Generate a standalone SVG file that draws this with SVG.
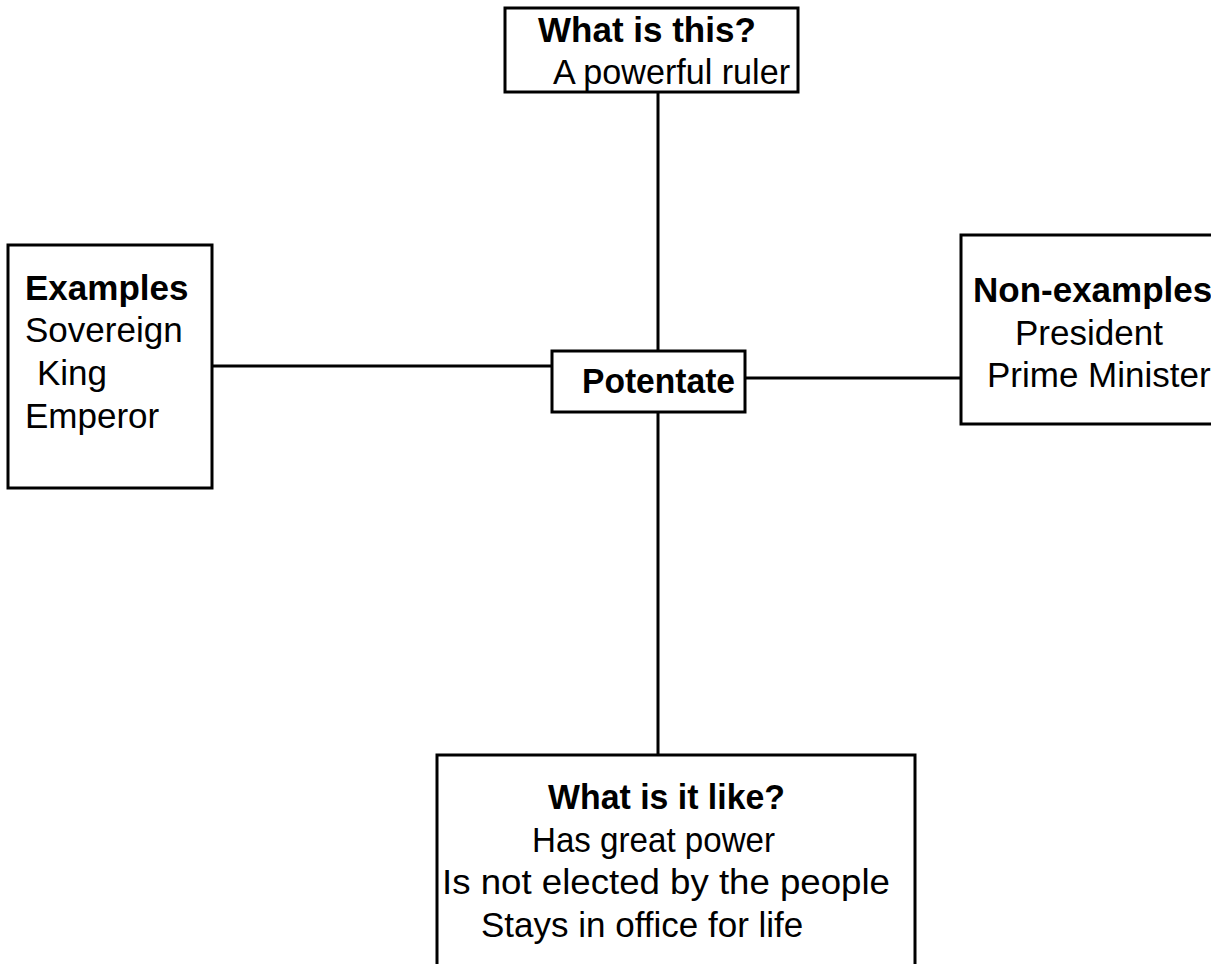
<svg xmlns="http://www.w3.org/2000/svg" width="1211" height="964" viewBox="0 0 1211 964">
<style>
.box{fill:#fff;stroke:#000;stroke-width:3}
.t{font-family:"Liberation Sans",Arial,sans-serif;font-size:35px;fill:#000}
.b{font-weight:bold}
.c{stroke:#000;stroke-width:3;fill:none}
</style>
<rect width="1211" height="964" fill="#fff"/>
<g id="connectors">
<line class="c" x1="658" y1="92" x2="658" y2="351"/>
<line class="c" x1="658" y1="412" x2="658" y2="755"/>
<line class="c" x1="212" y1="366" x2="552" y2="366"/>
<line class="c" x1="745" y1="378" x2="961" y2="378"/>
</g>
<g id="node-top">
<rect class="box" x="505" y="8" width="293" height="84"/>
<text class="t b" x="538" y="42">What is this?</text>
<text class="t" x="553" y="84" textLength="237" lengthAdjust="spacingAndGlyphs">A powerful ruler</text>
</g>
<g id="node-examples">
<rect class="box" x="8" y="245" width="204" height="243"/>
<text class="t b" x="25" y="300">Examples</text>
<text class="t" x="25" y="342">Sovereign</text>
<text class="t" x="37" y="385">King</text>
<text class="t" x="25" y="428">Emperor</text>
</g>
<g id="node-center">
<rect class="box" x="552" y="351" width="193" height="61"/>
<text class="t b" x="582" y="393" textLength="153" lengthAdjust="spacingAndGlyphs">Potentate</text>
</g>
<g id="node-nonexamples">
<rect class="box" x="961" y="235" width="260" height="189"/>
<text class="t b" x="973" y="302">Non-examples</text>
<text class="t" x="1015" y="345">President</text>
<text class="t" x="987" y="387">Prime Minister</text>
</g>
<g id="node-bottom">
<rect class="box" x="437" y="755" width="478" height="220"/>
<text class="t b" x="548" y="809" textLength="237" lengthAdjust="spacingAndGlyphs">What is it like?</text>
<text class="t" x="532" y="852" textLength="243" lengthAdjust="spacingAndGlyphs">Has great power</text>
<text class="t" x="442" y="894" textLength="448" lengthAdjust="spacingAndGlyphs">Is not elected by the people</text>
<text class="t" x="481" y="937">Stays in office for life</text>
</g>
</svg>
